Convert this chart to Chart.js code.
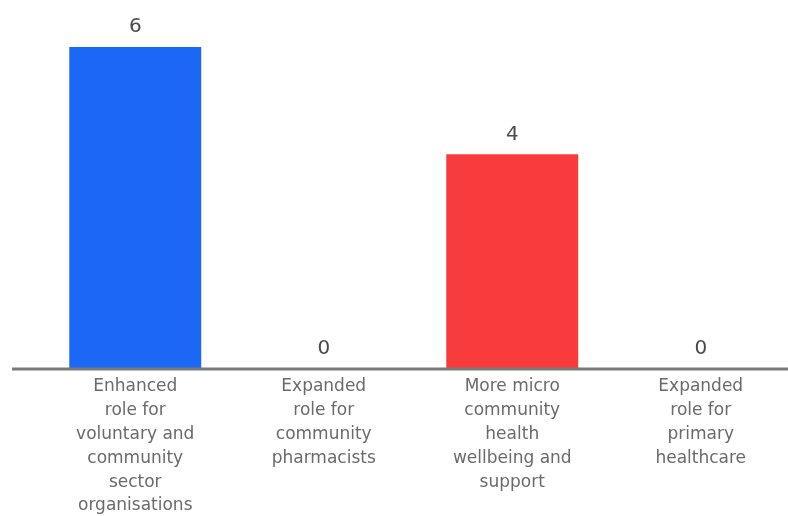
<!DOCTYPE html>
<html>
<head>
<meta charset="utf-8">
<script src="https://cdn.jsdelivr.net/npm/chart.js@4"></script>
<style>
    html, body { margin: 0; padding: 0; background: #fff; overflow: hidden; }
    #wrap { position: relative; width: 800px; height: 516px; }
</style>
</head>
<body>
<div id="wrap"><canvas id="barChart"></canvas></div>
<script>
var categories = [
    ["Enhanced", "role for", "voluntary and", "community", "sector", "organisations"],
    ["Expanded", "role for", "community", "pharmacists"],
    ["More micro", "community", "health", "wellbeing and", "support"],
    ["Expanded", "role for", "primary", "healthcare"]
];
var counts = [6, 0, 4, 0];
var barColors = ['#1c68f6', '#1c68f6', '#f83c3c', '#f83c3c'];

// value above each bar + the long base line
var labelsPlugin = {
    id: 'valueLabels',
    afterDatasetsDraw: function (chart) {
        var ctx = chart.ctx;
        var y = chart.scales.y;
        var zeroY = y.getPixelForValue(0);
        ctx.save();
        ctx.strokeStyle = '#7a7a7a';
        ctx.lineWidth = 3;
        ctx.beginPath();
        ctx.moveTo(12, zeroY);
        ctx.lineTo(chart.width, zeroY);
        ctx.stroke();

        ctx.fillStyle = '#4a4a4a';
        ctx.font = '20px "DejaVu Sans"';
        ctx.textAlign = 'center';
        ctx.textBaseline = 'middle';
        chart.getDatasetMeta(0).data.forEach(function (bar, i) {
            ctx.fillText(String(counts[i]), bar.x, bar.y - 20);
        });
        ctx.restore();
    }
};

var ctx = document.getElementById('barChart');
new Chart(ctx, {
    type: 'bar',
    data: {
        labels: categories,
        datasets: [{
            data: counts,
            backgroundColor: barColors,
            borderWidth: 0,
            barPercentage: 0.7,
            categoryPercentage: 1
        }]
    },
    options: {
        responsive: true,
        maintainAspectRatio: false,
        animation: false,
        layout: { padding: { top: 47, left: 41, right: 5, bottom: 0 } },
        plugins: {
            legend: { display: false },
            tooltip: { enabled: false }
        },
        scales: {
            x: {
                grid: { display: false, drawTicks: false },
                border: { display: false },
                ticks: {
                    color: '#6a6a6a',
                    font: { family: 'DejaVu Sans', size: 17, lineHeight: 1.4 },
                    padding: 6,
                    maxRotation: 0,
                    autoSkip: false
                },
                afterFit: function (scale) { scale.height = 147; }
            },
            y: {
                display: false,
                min: 0,
                max: 6
            }
        }
    },
    plugins: [labelsPlugin]
});
</script>
</body>
</html>
